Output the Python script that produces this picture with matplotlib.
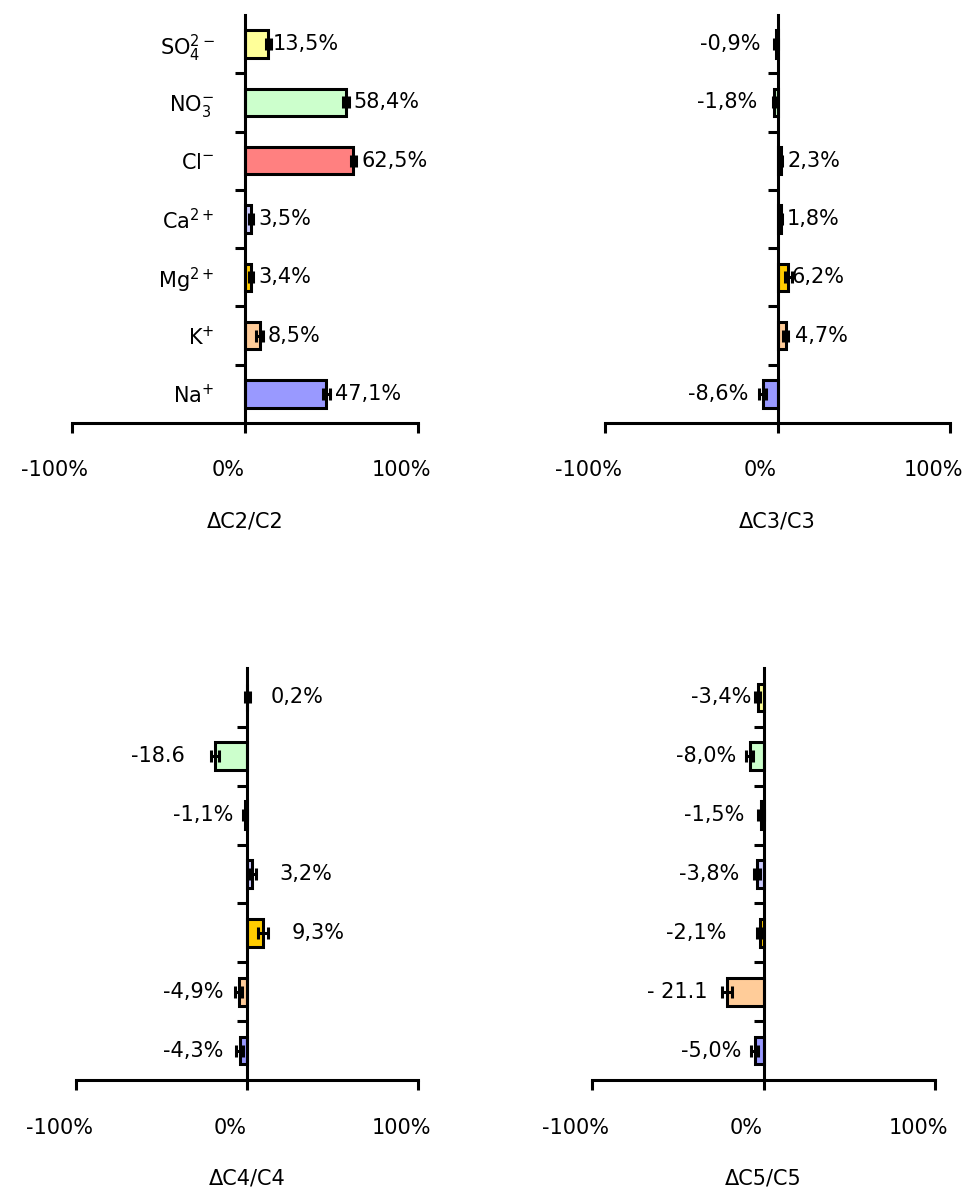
import numpy as np
import matplotlib
matplotlib.use('Agg')
import matplotlib.pyplot as plt
from matplotlib.transforms import ScaledTranslation

# ions, bottom to top
ions = ['Na$^{+}$', 'K$^{+}$', 'Mg$^{2+}$', 'Ca$^{2+}$', 'Cl$^{-}$', 'NO$_3^{-}$', 'SO$_4^{2-}$']
colors = ['#9999FF', '#FFCC99', '#FFCC00', '#CCCCFF', '#FF8080', '#CCFFCC', '#FFFF99']

# relative change (%) per panel
c2_vals = [47.1, 8.5, 3.4, 3.5, 62.5, 58.4, 13.5]
c3_vals = [-8.6, 4.7, 6.2, 1.8, 2.3, -1.8, -0.9]
c4_vals = [-4.3, -4.9, 9.3, 3.2, -1.1, -18.6, 0.2]
c5_vals = [-5.0, -21.1, -2.1, -3.8, -1.5, -8.0, -3.4]

# error bar half widths (%)
c2_err = [2.0, 2.0, 1.0, 1.0, 1.5, 1.5, 1.5]
c3_err = [2.0, 1.5, 2.0, 1.0, 0.5, 1.0, 1.0]
c4_err = [2.0, 2.0, 3.0, 2.0, 1.0, 2.5, 1.5]
c5_err = [2.0, 3.0, 1.5, 1.5, 1.5, 2.0, 1.5]

# value labels as printed
c2_lab = ['47,1%', '8,5%', '3,4%', '3,5%', '62,5%', '58,4%', '13,5%']
c3_lab = ['-8,6%', '4,7%', '6,2%', '1,8%', '2,3%', '-1,8%', '-0,9%']
c4_lab = ['-4,3%', '-4,9%', '9,3%', '3,2%', '-1,1%', '-18.6', '0,2%']
c5_lab = ['-5,0%', '- 21.1', '-2,1%', '-3,8%', '-1,5%', '-8,0%', '-3,4%']

xlabels = ['ΔC2/C2', 'ΔC3/C3', 'ΔC4/C4', 'ΔC5/C5']

# gap (px) between bar end and label, layout only
c2_gap = [9, 8, 7, 7, 8, 7, 4]
c3_gap = [14, 9, 3, 6, 6, 17, 15]
c4_gap = [16, 15, 29, 27, 12, 30, 23]
c5_gap = [14, 20, 34, 18, 17, 14, 6]

W, H = 972, 1194
fig = plt.figure(figsize=(W / 100, H / 100), dpi=100)

# axes boxes in pixels: left, right, top, bottom
boxes = [(72, 418, 15, 423), (605, 950, 15, 423),
         (76, 418, 668, 1080), (592, 935, 668, 1080)]

panels = [(c2_vals, c2_err, c2_lab, c2_gap),
          (c3_vals, c3_err, c3_lab, c3_gap),
          (c4_vals, c4_err, c4_lab, c4_gap),
          (c5_vals, c5_err, c5_lab, c5_gap)]

FS = 15
y = np.arange(len(ions))
shift = ScaledTranslation(-17 / 100, 0, fig.dpi_scale_trans)

for k, ((vals, errs, labs, gaps), (l, r, t, b)) in enumerate(zip(panels, boxes)):
    ax = fig.add_axes([l / W, 1 - b / H, (r - l) / W, (b - t) / H])
    ax.barh(y, vals, height=0.47, color=colors, edgecolor='black', linewidth=2.2, zorder=2)
    ax.errorbar(vals, y, xerr=errs, fmt='none', ecolor='black', elinewidth=2.2,
                capsize=4, capthick=2.2, zorder=3)
    for yi, v, s, g in zip(y, vals, labs, gaps):
        dx = g * 0.72
        if v >= 0:
            ax.annotate(s, (v, yi), xytext=(dx, 0), textcoords='offset points',
                        ha='left', va='center', fontsize=FS)
        else:
            ax.annotate(s, (v, yi), xytext=(-dx, 0), textcoords='offset points',
                        ha='right', va='center', fontsize=FS)

    ax.set_xlim(-100, 100)
    ax.set_ylim(-0.5, len(ions) - 0.5)
    for side in ['top', 'right']:
        ax.spines[side].set_visible(False)
    ax.spines['left'].set_position(('data', 0))
    ax.spines['left'].set_linewidth(2.2)
    ax.spines['bottom'].set_linewidth(2.2)

    ax.set_xticks([-100, 0, 100])
    ax.set_xticklabels(['-100%', '0%', '100%'])
    ax.tick_params(axis='x', direction='out', length=7, width=2.2, pad=20, labelsize=FS)
    for lab in ax.get_xticklabels():
        lab.set_transform(lab.get_transform() + shift)
    ax.set_xlabel(xlabels[k], fontsize=FS, labelpad=22)

    ax.set_yticks(y)
    ax.set_yticks(y[:-1] + 0.5, minor=True)
    ax.tick_params(axis='y', which='minor', direction='out', length=7, width=2.2)
    if k == 0:
        ax.set_yticklabels(ions)
        ax.tick_params(axis='y', which='major', length=0, pad=22, labelsize=FS)
    else:
        ax.tick_params(axis='y', which='major', length=0, labelleft=False)

fig.savefig('out.png', dpi=100)
